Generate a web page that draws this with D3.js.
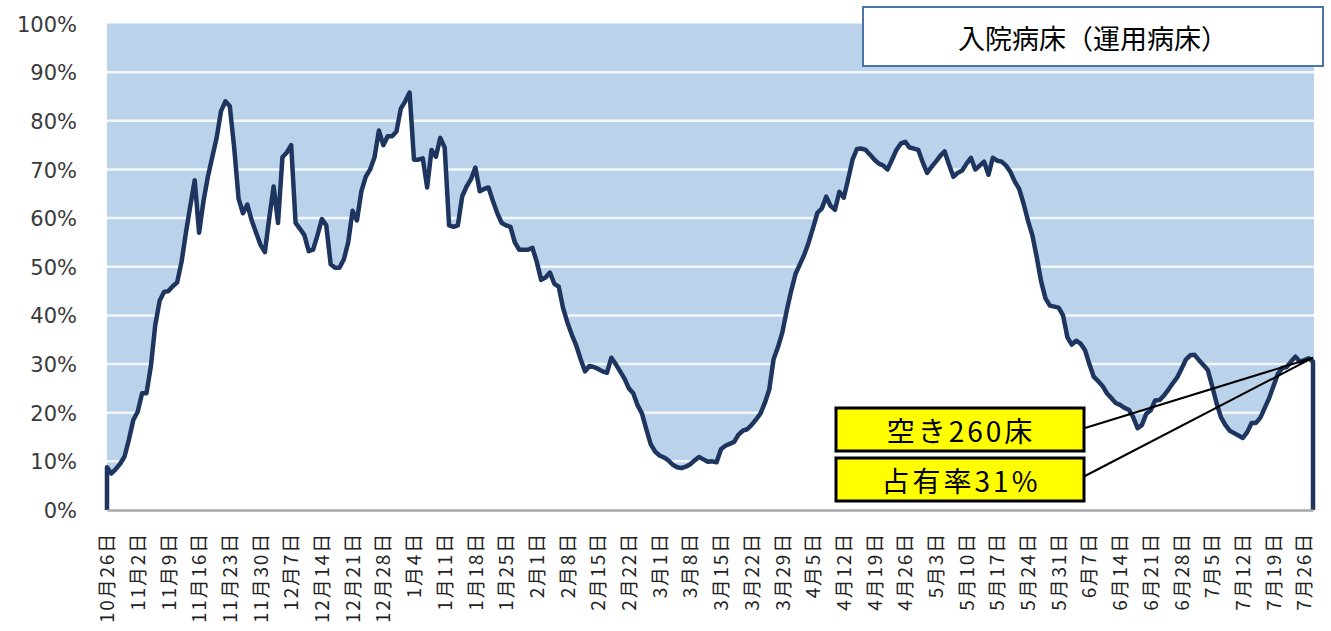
<!DOCTYPE html>
<html>
<head>
<meta charset="utf-8">
<script src="https://cdn.jsdelivr.net/npm/d3@7/dist/d3.min.js"></script>
<style>
  body { margin: 0; background: #fff; }
</style>
</head>
<body>
<svg></svg>
<script>
// occupancy % per day, starting 10/26 (one row = one week)
var occupancy = [
  8.8, 7.5, 8.4, 9.5, 11.0, 14.5, 18.5,
  20.2, 24.0, 24.0, 29.5, 38.0, 43.0, 44.8,
  45.0, 46.0, 46.8, 51.0, 57.0, 62.5, 67.8,
  57.0, 63.5, 68.5, 72.5, 76.5, 82.0, 84.0,
  83.0, 74.5, 64.0, 61.0, 62.8, 59.5, 57.0,
  54.5, 53.0, 60.0, 66.5, 59.0, 72.5, 73.5,
  75.0, 59.0, 57.8, 56.5, 53.2, 53.5, 56.5,
  59.8, 58.5, 50.5, 49.8, 49.8, 51.5, 55.0,
  61.5, 59.5, 65.5, 68.5, 70.0, 72.5, 78.0,
  75.0, 76.8, 76.8, 77.8, 82.5, 84.0, 85.8,
  72.0, 72.0, 72.3, 66.3, 74.0, 72.6, 76.5,
  74.5, 58.5, 58.2, 58.5, 64.5, 66.5, 68.0,
  70.4, 65.5, 66.0, 66.3, 63.5, 61.0, 59.0,
  58.5, 58.2, 55.0, 53.5, 53.5, 53.5, 53.9,
  51.0, 47.3, 47.8, 48.8, 46.5, 45.9, 41.5,
  38.5, 36.0, 33.8, 31.0, 28.5, 29.6, 29.4,
  29.0, 28.5, 28.2, 31.3, 30.0, 28.5, 27.0,
  25.0, 24.0, 21.5, 19.8, 16.5, 13.5, 12.0,
  11.2, 10.8, 10.2, 9.3, 8.8, 8.6, 8.9,
  9.4, 10.2, 10.9, 10.4, 9.9, 10.0, 9.8,
  12.5, 13.2, 13.6, 14.0, 15.5, 16.3, 16.6,
  17.5, 18.6, 19.8, 22.0, 24.7, 31.0, 33.5,
  36.5, 41.0, 45.0, 48.5, 50.5, 52.5, 55.0,
  58.0, 61.1, 62.0, 64.4, 62.5, 61.7, 65.4,
  64.2, 68.0, 72.0, 74.2, 74.3, 74.0, 73.0,
  72.0, 71.2, 70.8, 70.0, 72.0, 74.0, 75.3,
  75.7, 74.5, 74.3, 74.0, 71.5, 69.3, 70.5,
  71.6, 72.8, 73.7, 71.0, 68.5, 69.3, 69.8,
  71.2, 72.4, 70.0, 70.8, 71.6, 68.9, 72.4,
  71.8, 71.6, 70.8, 69.5, 67.5, 66.0, 63.0,
  59.5, 56.5, 52.0, 47.0, 43.5, 42.0, 41.8,
  41.6, 40.0, 35.5, 34.0, 34.8, 34.2, 32.9,
  30.0, 27.4, 26.5, 25.5, 24.0, 23.0, 22.0,
  21.6, 21.0, 20.6, 19.1, 16.8, 17.5, 19.8,
  20.5, 22.5, 22.6, 23.5, 24.7, 26.0, 27.2,
  29.0, 30.9, 31.8, 31.9, 30.8, 29.8, 28.8,
  25.5, 22.0, 19.1, 17.5, 16.3, 15.8, 15.3,
  14.8, 16.0, 17.9, 17.9, 19.0, 21.0, 23.0,
  25.5, 28.0, 29.2, 29.4, 30.5, 31.5, 30.5,
  30.8, 31.2, 30.5
]

// weekly labels on the x axis
var weekLabels = [
  "10月26日", "11月2日", "11月9日", "11月16日", "11月23日", "11月30日",
  "12月7日", "12月14日", "12月21日", "12月28日", "1月4日", "1月11日",
  "1月18日", "1月25日", "2月1日", "2月8日", "2月15日", "2月22日",
  "3月1日", "3月8日", "3月15日", "3月22日", "3月29日", "4月5日",
  "4月12日", "4月19日", "4月26日", "5月3日", "5月10日", "5月17日",
  "5月24日", "5月31日", "6月7日", "6月14日", "6月21日", "6月28日",
  "7月5日", "7月12日", "7月19日", "7月26日"
]

var yTicks = [0, 10, 20, 30, 40, 50, 60, 70, 80, 90, 100]

var title = "入院病床（運用病床）"
var noteVacant = "空き260床"
var noteRate = "占有率31%"
var noteValue = 31.3

var screen = {width: 1331, height: 631}
var plot = {left: 107, right: 1314, top: 23.5, bottom: 510}

var svg = d3.select("svg")
  .attr("width", screen.width)
  .attr("height", screen.height)

var x = d3.scaleLinear()
  .domain([0, occupancy.length - 1])
  .range([plot.left, plot.right - 1])

var y = d3.scaleLinear()
  .domain([0, 100])
  .range([plot.bottom, plot.top])

// blue background = empty beds
svg.append("rect")
  .attr("x", plot.left)
  .attr("y", plot.top)
  .attr("width", plot.right - plot.left)
  .attr("height", plot.bottom - plot.top)
  .attr("fill", "#bad3eb")

svg.append("g")
  .selectAll("line")
  .data(yTicks.filter(function(d){ return d > 0 && d < 100 }))
  .enter()
  .append("line")
  .attr("x1", plot.left)
  .attr("x2", plot.right)
  .attr("y1", function(d){ return y(d) })
  .attr("y2", function(d){ return y(d) })
  .attr("stroke", "#f4f8fc")
  .attr("stroke-width", 2.5)

// white area under the line (occupied)
var area = d3.area()
  .x(function(d, i){ return x(i) })
  .y0(y(0))
  .y1(function(d){ return y(d) })

svg.append("path")
  .datum(occupancy)
  .attr("fill", "#fff")
  .attr("d", area)

// outline drops to zero at both ends, like the excel area border
var outline = [[0, 0]]
occupancy.forEach(function(v, i){ outline.push([i, v]) })
outline.push([occupancy.length - 1, 0])

var line = d3.line()
  .x(function(d){ return x(d[0]) })
  .y(function(d){ return y(d[1]) })

svg.append("path")
  .datum(outline)
  .attr("fill", "none")
  .attr("stroke", "#1d355f")
  .attr("stroke-width", 4.5)
  .attr("stroke-linejoin", "round")
  .attr("d", line)

// y axis
var yAxis = svg.append("g")
  .attr("transform", "translate(" + plot.left + ",0)")
  .call(d3.axisLeft(y)
    .tickValues(yTicks)
    .tickSize(0)
    .tickPadding(30)
    .tickFormat(function(d){ return d + "%" }))

yAxis.select(".domain").remove()
yAxis.selectAll("text")
  .attr("dy", "0.36em")
  .style("font-family", "DejaVu Sans")
  .style("font-size", "21px")
  .attr("fill", "#3a3a3a")

// x axis, weekly ticks
var tickDays = weekLabels.map(function(d, i){ return i * 7 })

var xAxis = svg.append("g")
  .attr("transform", "translate(0," + plot.bottom + ")")
  .call(d3.axisBottom(x)
    .tickValues(tickDays)
    .tickSize(0)
    .tickFormat(function(d, i){ return weekLabels[i] }))

xAxis.select(".domain")
  .attr("stroke", "#a6a6a6")
  .attr("stroke-width", 2.5)

xAxis.selectAll("text")
  .attr("transform", "rotate(-90)")
  .attr("x", -22)
  .attr("y", 0)
  .attr("dy", "0.35em")
  .style("text-anchor", "end")
  .style("font-family", "Noto Sans CJK JP")
  .style("font-size", "19px")
  .style("letter-spacing", "1.8px")
  .attr("fill", "#222")

// title box
svg.append("rect")
  .attr("x", 863)
  .attr("y", 7)
  .attr("width", 460)
  .attr("height", 59)
  .attr("fill", "#fff")
  .attr("stroke", "#4a74a8")
  .attr("stroke-width", 2)

svg.append("text")
  .attr("x", 1093)
  .attr("y", 37)
  .attr("dominant-baseline", "central")
  .attr("text-anchor", "middle")
  .style("font-family", "Noto Sans CJK JP")
  .style("font-size", "27px")
  .attr("fill", "#000")
  .text(title)

// leader lines to the last point
var target = [x(occupancy.length - 1), y(noteValue)]
var notes = [
  {text: noteVacant, top: 408, lx: 1085, ly: 428},
  {text: noteRate, top: 458, lx: 1083, ly: 477}
]

svg.append("g")
  .selectAll("line")
  .data(notes)
  .enter()
  .append("line")
  .attr("x1", function(d){ return d.lx })
  .attr("y1", function(d){ return d.ly })
  .attr("x2", target[0])
  .attr("y2", target[1])
  .attr("stroke", "#000")
  .attr("stroke-width", 2)

var boxes = svg.append("g")
  .selectAll("g")
  .data(notes)
  .enter()
  .append("g")

boxes.append("rect")
  .attr("x", 836)
  .attr("y", function(d){ return d.top })
  .attr("width", 248)
  .attr("height", 43)
  .attr("fill", "#ffff00")
  .attr("stroke", "#000")
  .attr("stroke-width", 3)

boxes.append("text")
  .attr("x", 961)
  .attr("y", function(d){ return d.top + 22 })
  .attr("dominant-baseline", "central")
  .attr("text-anchor", "middle")
  .style("font-family", "Noto Sans CJK JP")
  .style("font-size", "28px")
  .style("letter-spacing", "3px")
  .attr("fill", "#000")
  .text(function(d){ return d.text })
</script>
</body>
</html>
